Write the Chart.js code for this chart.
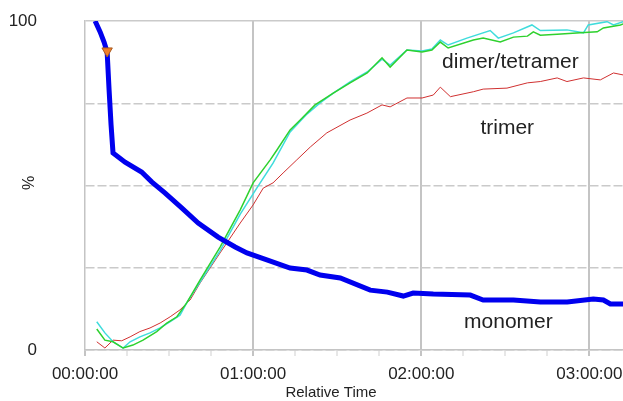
<!DOCTYPE html>
<html>
<head>
<meta charset="utf-8">
<script src="https://cdn.jsdelivr.net/npm/chart.js@4.4.0/dist/chart.umd.min.js"></script>
<style>
  html, body { margin: 0; padding: 0; background: #fff; }
  canvas { display: block; }
</style>
</head>
<body>
<canvas id="c" width="623" height="401"></canvas>
<script>
// time in minutes, values in %
const monomerTime = [3.6, 5.4, 6.8, 7.9, 8.6, 9.3, 10.0, 14.3, 20.2, 23.8, 28.6, 34.5, 40.4, 47.5, 53.6, 57.8, 64.9, 73.2, 79.2, 83.9, 91.1, 101.8, 107.9, 113.6, 117.1, 124.3, 137.5, 142.1, 152.9, 162.5, 172.1, 181.4, 185.0, 187.5, 192.1];
const monomerPct  = [100, 96.7, 93.6, 90.6, 79.0, 68.4, 59.9, 57.1, 54.1, 51.1, 47.7, 43.2, 38.6, 34.3, 31.3, 29.5, 27.4, 24.9, 24.3, 22.8, 21.9, 18.2, 17.6, 16.4, 17.3, 17.0, 16.7, 15.2, 15.2, 14.6, 14.6, 15.5, 15.2, 14.0, 14.0];

const dimerTime = [4.2, 7.1, 10.0, 13.6, 17.1, 20.7, 25.6, 29.2, 32.8, 36.3, 41.1, 48.2, 55.4, 60.0, 66.1, 68.5, 73.2, 76.8, 82.1, 88.6, 94.6, 100.7, 106.0, 108.9, 114.9, 120.3, 123.8, 126.8, 129.6, 138.6, 142.1, 148.2, 152.9, 157.9, 160.0, 162.5, 168.5, 176.8, 182.8, 185.0, 191.1, 192.1];
const dimerPct  = [6.4, 3.0, 2.5, 0.6, 1.5, 3.0, 5.6, 8.2, 10.1, 14.3, 21.3, 31.3, 42.6, 50.8, 57.8, 60.8, 66.9, 69.9, 74.5, 78.1, 81.2, 84.2, 88.8, 86.0, 91.2, 90.6, 91.2, 93.6, 91.8, 94.2, 94.8, 93.6, 95.1, 95.4, 96.7, 95.7, 96.0, 96.4, 96.7, 97.9, 98.8, 99.1];

const tetramerTime = [4.2, 7.1, 10.0, 13.6, 16.1, 19.6, 23.2, 26.8, 30.4, 33.9, 36.3, 41.1, 48.2, 55.4, 61.3, 67.1, 73.2, 79.2, 83.9, 88.6, 94.6, 100.7, 106.0, 108.9, 114.9, 120.3, 123.8, 126.8, 129.6, 136.3, 144.6, 147.5, 152.9, 159.5, 162.5, 172.0, 177.9, 179.6, 186.3, 188.6, 192.1];
const tetramerPct  = [8.6, 5.2, 2.5, 0.6, 2.5, 4.0, 5.2, 6.7, 8.6, 10.6, 14.3, 20.7, 30.1, 41.3, 49.2, 56.8, 66.3, 71.7, 75.1, 78.1, 81.5, 84.5, 88.4, 86.6, 91.2, 90.9, 91.5, 94.2, 92.7, 94.8, 97.1, 94.8, 96.4, 98.8, 97.1, 97.3, 96.4, 98.8, 99.8, 98.8, 99.8];

const trimerTime = [4.2, 7.1, 10.0, 13.1, 16.1, 19.6, 23.2, 26.8, 30.4, 33.9, 37.5, 41.1, 48.2, 55.4, 60.0, 63.6, 67.1, 70.7, 75.6, 80.4, 86.3, 94.6, 100.6, 106.0, 108.9, 114.9, 120.3, 124.3, 126.8, 130.4, 138.6, 142.1, 150.6, 157.9, 162.5, 168.5, 172.0, 177.9, 183.9, 188.6, 192.1];
const trimerPct  = [2.5, 0.6, 3.0, 2.8, 4.0, 5.6, 6.7, 8.2, 10.1, 12.2, 15.2, 20.4, 29.5, 38.6, 44.1, 49.2, 50.8, 53.8, 57.8, 61.7, 66.0, 69.9, 72.0, 74.5, 73.9, 76.6, 76.6, 77.5, 79.9, 77.0, 78.5, 79.3, 79.6, 81.2, 81.6, 82.7, 81.6, 82.7, 82.1, 84.2, 83.6];

const markerTime = [7.9];
const markerPct = [90.9];

const xTicks = [0, 15, 30, 45, 60, 75, 90, 105, 120, 135, 150, 165, 180];
const yTicks = [0, 25, 50, 75, 100];

const seriesLabels = [
  { text: 'dimer/tetramer', t: 151.8, p: 87.5 },
  { text: 'trimer', t: 150.7, p: 67.5 },
  { text: 'monomer', t: 151.1, p: 8.5 }
];

const FONT = '"Liberation Sans", Arial, sans-serif';

function pts(ts, ps) {
  return ts.map((t, i) => ({ x: t, y: ps[i] }));
}

function hms(v) {
  const h = Math.floor(v / 60);
  return String(h).padStart(2, '0') + ':00:00';
}

const textPlugin = {
  id: 'textPlugin',
  afterDraw(chart) {
    const ctx = chart.ctx;
    const xs = chart.scales.x, ys = chart.scales.y;
    ctx.save();
    ctx.fillStyle = '#222';
    ctx.textAlign = 'center';
    ctx.textBaseline = 'middle';
    ctx.font = '21px ' + FONT;
    seriesLabels.forEach(l => {
      ctx.fillText(l.text, xs.getPixelForValue(l.t), ys.getPixelForValue(l.p));
    });
    // axis titles
    ctx.font = '15px ' + FONT;
    ctx.fillText('Relative Time', 331, 393);
    ctx.translate(30, 183);
    ctx.rotate(-Math.PI / 2);
    ctx.font = '16px ' + FONT;
    ctx.fillText('%', 0, 0);
    ctx.restore();
  }
};

new Chart(document.getElementById('c'), {
  type: 'line',
  data: {
    datasets: [
      {
        data: pts(markerTime, markerPct),
        showLine: false,
        pointStyle: 'triangle',
        rotation: 180,
        pointRadius: 6,
        backgroundColor: '#f0802a',
        borderColor: '#a85a20',
        borderWidth: 1
      },
      {
        data: pts(monomerTime, monomerPct),
        borderColor: '#0000ee',
        borderWidth: 5,
        pointRadius: 0,
        tension: 0
      },
      {
        data: pts(dimerTime, dimerPct),
        borderColor: '#2ed12e',
        borderWidth: 1.5,
        pointRadius: 0,
        tension: 0
      },
      {
        data: pts(tetramerTime, tetramerPct),
        borderColor: '#3fdcdc',
        borderWidth: 1.5,
        pointRadius: 0,
        tension: 0
      },
      {
        data: pts(trimerTime, trimerPct),
        borderColor: '#d03030',
        borderWidth: 1,
        pointRadius: 0,
        tension: 0
      }
    ]
  },
  options: {
    responsive: false,
    animation: false,
    layout: { autoPadding: false, padding: { left: 0, top: 21, right: 0, bottom: 0 } },
    plugins: {
      legend: { display: false },
      tooltip: { enabled: false }
    },
    scales: {
      x: {
        type: 'linear',
        min: 0,
        max: 192,
        afterBuildTicks: s => { s.ticks = xTicks.map(v => ({ value: v })); },
        afterFit: s => {
          s.height = 51;
          s.paddingLeft = 0;
          s.paddingRight = 0;
        },
        grid: {
          color: c => (c.tick && c.tick.value % 60 === 0 && c.tick.value > 0) ? '#c4c4c4' : 'rgba(0,0,0,0)',
          lineWidth: 2,
          tickColor: c => (c.tick && c.tick.value % 60 === 0) ? '#c4c4c4' : '#cfcfcf',
          tickWidth: c => (c.tick && c.tick.value % 60 === 0) ? 2 : 1,
          tickLength: 6
        },
        border: { color: '#c4c4c4', width: 1.5 },
        ticks: {
          autoSkip: false,
          maxRotation: 0,
          padding: 8,
          color: '#222',
          font: { family: FONT, size: 17 },
          callback: v => (v % 60 === 0 ? hms(v) : '')
        }
      },
      y: {
        min: 0,
        max: 100,
        afterBuildTicks: s => { s.ticks = yTicks.map(v => ({ value: v })); },
        afterFit: s => {
          s.width = 85;
          s.paddingTop = 0;
          s.paddingBottom = 0;
        },
        grid: {
          color: '#cacaca',
          lineWidth: 1.5,
          drawTicks: false
        },
        border: {
          color: '#c4c4c4',
          width: 1.5,
          dash: c => (c.tick && c.tick.value === 100) ? [] : [9, 3]
        },
        ticks: {
          padding: 48,
          color: '#222',
          font: { family: FONT, size: 17 },
          callback: v => (v === 0 || v === 100 ? String(v) : '')
        }
      }
    }
  },
  plugins: [textPlugin]
});
</script>
</body>
</html>
